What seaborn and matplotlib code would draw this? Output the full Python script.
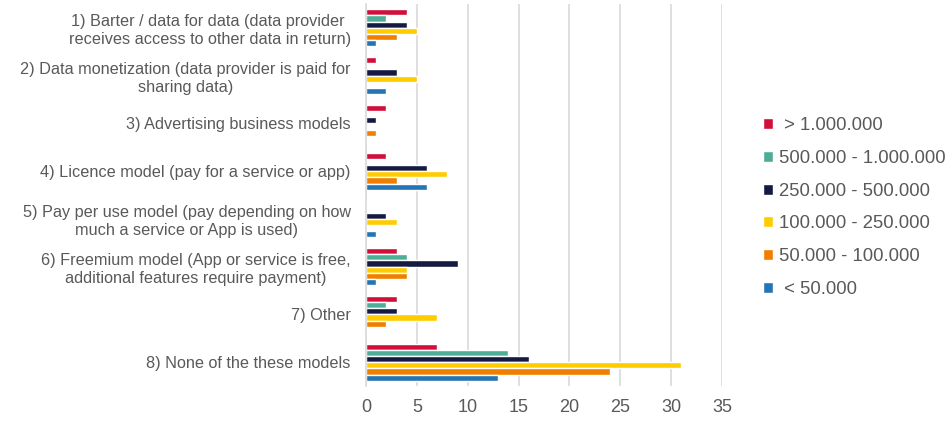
import pandas as pd
import matplotlib
matplotlib.use("Agg")
import matplotlib.pyplot as plt
import seaborn as sns

models = [
    "1) Barter / data for data (data provider \nreceives access to other data in return)",
    "2) Data monetization (data provider is paid for\nsharing data)",
    "3) Advertising business models",
    "4) Licence model (pay for a service or app)",
    "5) Pay per use model (pay depending on how\nmuch a service or App is used)",
    "6) Freemium model (App or service is free,\nadditional features require payment)",
    "7) Other",
    "8) None of the these models",
]
sizes = [" > 1.000.000", "500.000 - 1.000.000", "250.000 - 500.000",
         "100.000 - 250.000", "50.000 - 100.000", " < 50.000"]

# counts per model, one list per company size
over_1m = [4, 1, 2, 2, 0, 3, 3, 7]
s500k_1m = [2, 0, 0, 0, 0, 4, 2, 14]
s250k_500k = [4, 3, 1, 6, 2, 9, 3, 16]
s100k_250k = [5, 5, 0, 8, 3, 4, 7, 31]
s50k_100k = [3, 0, 1, 3, 0, 4, 2, 24]
under_50k = [1, 2, 0, 6, 1, 1, 0, 13]

colors = ["#D0103A", "#4DAE98", "#141A42", "#FFCC00", "#F07F00", "#2475B6"]

series = [over_1m, s500k_1m, s250k_500k, s100k_250k, s50k_100k, under_50k]
rows = []
for size, vals in zip(sizes, series):
    for m, v in zip(models, vals):
        rows.append({"model": m, "size": size, "count": v})
df = pd.DataFrame(rows)

sns.set_style("white")
plt.rcParams["font.family"] = ["Liberation Sans", "DejaVu Sans"]
grey = "#595959"

fig = plt.figure(figsize=(9.5, 4.23), dpi=100)
ax = fig.add_axes([366 / 950, 1 - 386 / 423, (722 - 366) / 950, 382 / 423])

sns.barplot(data=df, y="model", x="count", hue="size", hue_order=sizes,
            order=models, palette=colors, orient="h", width=0.78,
            saturation=1, errorbar=None, ax=ax)

ax.set_xlim(0, 35)
ax.set_xticks(range(0, 36, 5))
ax.set_xlabel("")
ax.set_ylabel("")
ax.grid(axis="x", color="#D9D9D9", linewidth=1.2)
ax.set_axisbelow(True)
for s in ["top", "right", "bottom"]:
    ax.spines[s].set_visible(False)
ax.spines["left"].set_color("#D9D9D9")
ax.spines["left"].set_linewidth(1.2)
ax.tick_params(axis="y", length=0, pad=11, labelsize=11.7, labelcolor=grey)
ax.tick_params(axis="x", length=0, pad=9, labelsize=13, labelcolor=grey)
for lbl in ax.get_yticklabels():
    lbl.set_multialignment("center")

ax.legend(loc="center left", bbox_to_anchor=(763 / 950, 1 - 207.5 / 423),
          bbox_transform=fig.transFigure, frameon=False, borderpad=0,
          borderaxespad=0, handlelength=0.55, handleheight=0.55,
          handletextpad=0.3, labelspacing=0.85, fontsize=13.3, labelcolor=grey)

fig.savefig("out.png", dpi=100)
